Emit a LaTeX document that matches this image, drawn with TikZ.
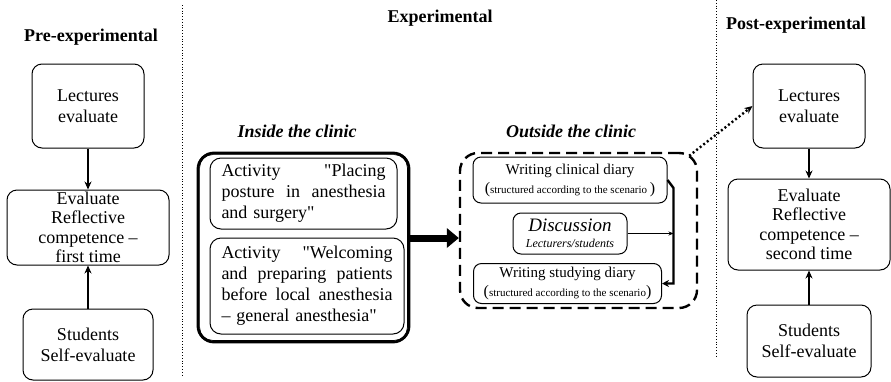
\documentclass[tikz,border=0pt]{standalone}
\usepackage{fontspec}
\setmainfont{Liberation Serif}
\usetikzlibrary{arrows.meta, positioning, calc}

\newcommand{\dq}{\XeTeXglyph\XeTeXglyphindex "quotedbl"\relax}
\newcommand{\scennote}[1]{{\fontsize{16}{16}\selectfont(}{\fontsize{11}{13}\selectfont#1}{\fontsize{16}{16}\selectfont)}}

\begin{document}
\begin{tikzpicture}[
    x=1pt, y=-1pt,
    every node/.style={font=\fontsize{18}{21}\selectfont},
    box/.style={draw, line width=1pt, rounded corners=10pt, align=center, inner sep=0pt},
    actbox/.style={draw, line width=1pt, rounded corners=11pt, align=left, inner xsep=11.5pt, inner ysep=0pt},
    notebox/.style={draw, line width=1pt, rounded corners=8pt, align=center, inner sep=0pt, font=\fontsize{15}{19}\selectfont},
    head/.style={font=\fontsize{18}{21}\selectfont\bfseries},
    subhead/.style={font=\fontsize{18}{21}\selectfont\bfseries\itshape},
    arr/.style={-{Stealth[length=8pt,width=7pt]}, line width=2.4pt}
]
\useasboundingbox (0,0) rectangle (891,381);

%% Phase separators
\draw[dotted, line width=0.8pt] (182,5) -- (182,377);
\draw[dotted, line width=0.8pt] (716,0) -- (716,358);

%% Headings
\node[head] (hpre) at (91,37) {Pre-experimental};
\node[head] (hexp) at (440,18) {Experimental};
\node[head] (hpost) at (796,25) {Post-experimental};
\node[subhead] (hin) at (297,131) {Inside the clinic};
\node[subhead] (hout) at (571,131) {Outside the clinic};

%% Pre-experimental
\node[box, minimum width=112pt, minimum height=84pt] (lecL) at (88,106) {Lectures\\evaluate};
\node[box, minimum width=162pt, minimum height=75pt, below=41pt of lecL, font=\fontsize{18}{19.5}\selectfont] (evalL) {Evaluate\\Reflective\\competence –\\first time};
\node[box, minimum width=130pt, minimum height=71pt, below=43pt of evalL] (stuL) {Students\\Self-evaluate};
\draw[arr] (lecL) -- (evalL);
\draw[arr] (stuL) -- (evalL);

%% Inside the clinic
\node[draw, line width=2.8pt, rounded corners=16pt, minimum width=211pt, minimum height=189pt] (clinic) at (303.5,247.5) {};
\draw[line width=0.7pt, rounded corners=13pt] ($(clinic.south west)+(3,-3)$) rectangle ($(clinic.north east)+(-3,3)$);
\node[actbox, text width=164pt, minimum height=71pt] (act1) at (303.5,193.5) {
    Activity \hfill \dq Placing\\
    posture \hfill in \hfill anesthesia\\
    and surgery\dq
};
\node[actbox, text width=171pt, minimum height=96pt, below=8pt of act1.south west, anchor=north west] (act2) {
    Activity \hfill \dq Welcoming\\
    and \hfill preparing \hfill patients\\
    before \hfill local \hfill anesthesia\\
    – general anesthesia\dq
};

%% Outside the clinic
\node[draw, dash pattern=on 11pt off 6pt, line width=2.4pt, rounded corners=18pt, minimum width=237pt, minimum height=155pt] (outside) at (578.5,230.5) {};
\node[notebox, minimum width=194pt, minimum height=46pt] (clin) at (570,180) {
    Writing clinical diary\\
    \scennote{structured according to the scenario }
};
\node[notebox, minimum width=114pt, minimum height=41pt, below=9pt of clin] (disc) {
    {\fontsize{19}{19}\selectfont\itshape Discussion}\\[-3pt]
    {\fontsize{12}{14}\selectfont\itshape Lecturers/students}
};
\node[notebox, minimum width=188pt, minimum height=40pt, anchor=north west] (stud) at (473,263) {
    Writing studying diary\\
    \scennote{structured according to the scenario}
};

%% Connectors
\coordinate (bigy) at (0,238);
\draw[line width=7pt, -{Triangle[length=12pt,width=20pt,line width=0pt]}] (clinic.east |- bigy) -- (outside.west |- bigy);
\draw[line width=2.4pt, -{Stealth[length=7pt,width=7pt]}] (clin.east) -- ++(6,8) coordinate (clinbend) |- (stud.east);
\draw[line width=0.6pt, -{Stealth[length=5pt,width=4pt]}] (disc.east) -- (disc.east -| clinbend);

%% Post-experimental
\node[box, minimum width=112pt, minimum height=84pt] (lecR) at (809,106) {Lectures\\evaluate};
\node[box, minimum width=162pt, minimum height=91pt, below=30pt of lecR, font=\fontsize{18}{19.5}\selectfont] (evalR) {Evaluate\\Reflective\\competence –\\second time};
\node[box, minimum width=124pt, minimum height=72pt, below=34pt of evalR] (stuR) {Students\\Self-evaluate};
\draw[arr] (lecR) -- (evalR);
\draw[arr] (stuR) -- (evalR);
\draw[line width=2.4pt, dash pattern=on 2pt off 2.5pt, -{Stealth[length=8pt,width=7pt]}] ($(outside.north east)+(-9,4)$) -- (lecR.west);
\end{tikzpicture}
\end{document}
